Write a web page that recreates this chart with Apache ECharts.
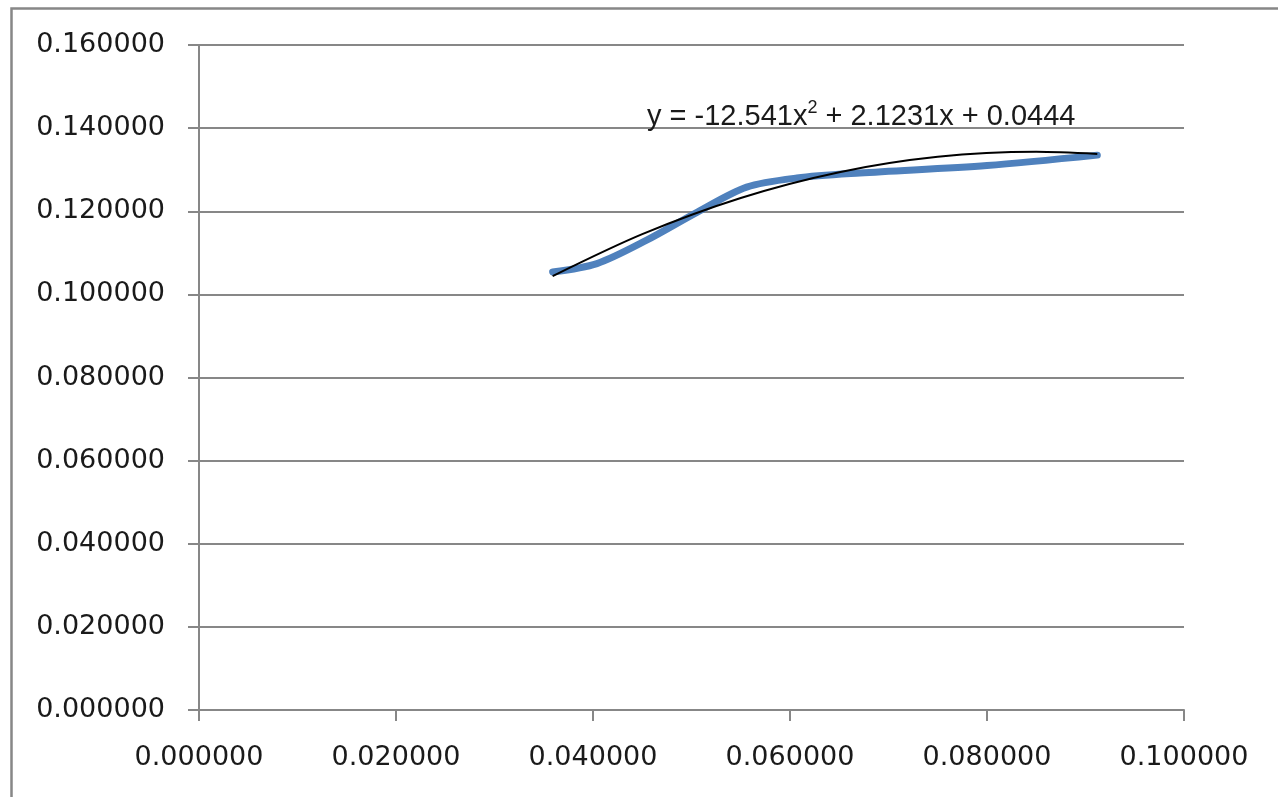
<!DOCTYPE html>
<html>
<head>
<meta charset="utf-8">
<script src="https://cdn.jsdelivr.net/npm/echarts@6/dist/echarts.min.js"></script>
<style>
html,body{margin:0;padding:0;background:#fff;}
#chart{width:1278px;height:797px;}
</style>
</head>
<body>
<div id="chart"></div>
<script>
// Measured series (blue smoothed line)
const seriesX = [0.0359, 0.0404, 0.0455, 0.0506, 0.0556, 0.0607, 0.0671, 0.0800, 0.0912];
const seriesY = [0.1054, 0.1074, 0.1131, 0.1198, 0.1258, 0.1280, 0.1292, 0.1310, 0.1335];
// Trendline (black thin line)
const trendX = [0.0359, 0.0450, 0.0550, 0.0650, 0.0750, 0.0850, 0.0912];
const trendY = [0.1044, 0.1145, 0.1232, 0.1294, 0.1331, 0.1343, 0.1338];
const equationText = ['y = -12.541x', '2', ' + 2.1231x + 0.0444'];

const chart = echarts.init(document.getElementById('chart'));
const gray = '#878787';
const tickFont = {fontFamily: 'DejaVu Sans', fontSize: 27, color: '#1a1a1a'};
chart.setOption({
  animation: false,
  backgroundColor: '#fff',
  grid: {left: 199, right: 94, top: 45, bottom: 87, containLabel: false},
  xAxis: {
    type: 'value', min: 0, max: 0.1, interval: 0.02,
    axisLine: {show: true, lineStyle: {color: gray, width: 2}},
    axisTick: {show: true, inside: false, length: 11, lineStyle: {color: gray, width: 2}},
    splitLine: {show: false},
    axisLabel: Object.assign({margin: 34, formatter: v => v.toFixed(6)}, tickFont)
  },
  yAxis: {
    type: 'value', min: 0, max: 0.16, interval: 0.02,
    axisLine: {show: true, lineStyle: {color: gray, width: 2}},
    axisTick: {show: true, inside: false, length: 11, lineStyle: {color: gray, width: 2}},
    splitLine: {show: true, lineStyle: {color: gray, width: 2}},
    axisLabel: Object.assign({margin: 34, formatter: v => v.toFixed(6)}, tickFont)
  },
  series: [
    {
      type: 'line', smooth: 0.3, showSymbol: false,
      data: seriesX.map((x, i) => [x, seriesY[i]]),
      lineStyle: {color: '#4F81BD', width: 7, cap: 'round'},
      z: 2
    },
    {
      type: 'line', smooth: 0.3, showSymbol: false,
      data: trendX.map((x, i) => [x, trendY[i]]),
      lineStyle: {color: '#000', width: 2},
      z: 3
    }
  ],
  graphic: [
    {
      type: 'rect', left: 9, top: 6, silent: true,
      shape: {x: 0, y: 0, width: 1300, height: 820},
      style: {fill: 'none', stroke: gray, lineWidth: 2.5}
    },
    {
      type: 'text', left: 647, top: 99, z: 10,
      style: {
        text: '{a|' + equationText[0] + '}{s|' + equationText[1] + '}{a|' + equationText[2] + '}',
        rich: {
          a: {fontFamily: 'Liberation Sans', fontSize: 29, fill: '#1a1a1a', verticalAlign: 'bottom'},
          s: {fontFamily: 'Liberation Sans', fontSize: 18, fill: '#1a1a1a', verticalAlign: 'top', padding: [0,0,14,0]}
        }
      }
    }
  ]
});
</script>
</body>
</html>
